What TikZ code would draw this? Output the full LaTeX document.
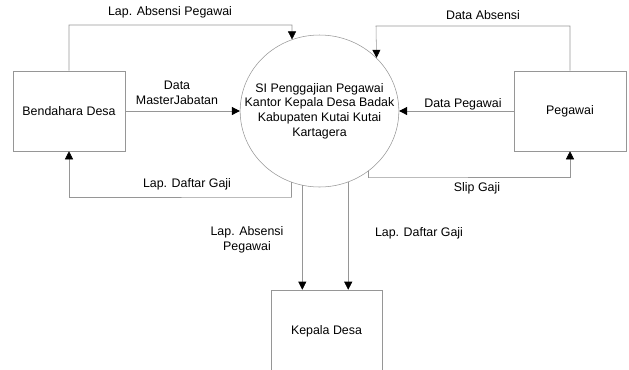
\documentclass[tikz,border=0pt]{standalone}
\usepackage{fontspec}
\setmainfont{Liberation Sans}
\usetikzlibrary{arrows.meta,shapes.geometric}
\definecolor{linegray}{RGB}{150,150,150}
\begin{document}
\begin{tikzpicture}[x=0.75pt,y=-0.75pt,
        every node/.style={font=\fontsize{9.3}{10.9}\selectfont},
        entity/.style={draw=linegray,minimum width=84pt,minimum height=60pt,inner sep=0pt},
        process/.style={draw=linegray,ellipse,minimum width=119pt,minimum height=114pt,inner sep=0pt},
        flow/.style={draw=linegray,-{Triangle[length=6pt,width=6pt,color=black]}},
        lbl/.style={align=center,inner sep=0pt}]
        \useasboundingbox (0,0) rectangle (629,369);
        \clip (0,0) rectangle (629,369);
        % the process bubble, text set on top of it
        \node [process] (si) at (319.5,111) {};
        \node [lbl] (si-text) at (si.center) {SI Penggajian Pegawai\\Kantor Kepala Desa Badak\\Kabupaten Kutai Kutai\\Kartagera};
        \node [entity] (bend) at (69,111) {Bendahara Desa};
        \node [entity] (peg) at (570,111) {Pegawai};
        \node [entity,minimum width=83pt,minimum height=61.5pt] (kep) at (326.5,331) {Kepala Desa};
        \coordinate (absen1) at (292,25);
        \coordinate (absen2) at (376,26);
        \coordinate (gaji1) at (291,197);
        \coordinate (slip1) at (368,177);
        \draw [flow] (bend.north) |- (absen1) -- (si.111);
        \draw [flow] (peg.north) |- (absen2) -- (si.43);
        \draw [flow] (bend.east) -- (si.west);
        \draw [flow] (peg.west) -- (si.east);
        \draw [flow] (si.248) |- (gaji1) -| (bend.south);
        \draw [flow] (si.-51) |- (slip1) -| (peg.south);
        \draw [flow] (si.257) -- (si.257 |- kep.north);
        \draw [flow] (si.292) -- (si.292 |- kep.north);
        \node [lbl] (l-absen1) at (170,12) {Lap. Absensi Pegawai};
        \node [lbl] (l-master) at (177,93) {Data\\MasterJabatan};
        \node [lbl] (l-gaji1) at (187,184) {Lap. Daftar Gaji};
        \node [lbl] (l-absen2) at (483,15) {Data Absensi};
        \node [lbl] (l-data) at (463,104) {Data Pegawai};
        \node [lbl] (l-slip) at (477,188) {Slip Gaji};
        \node [lbl] (l-absen3) at (247,240) {Lap. Absensi\\Pegawai};
        \node [lbl] (l-gaji2) at (419,233) {Lap. Daftar Gaji};
    \end{tikzpicture}
\end{document}
